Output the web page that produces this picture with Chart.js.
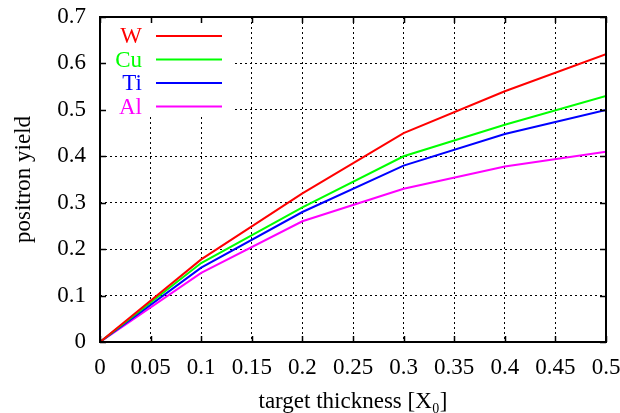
<!DOCTYPE html>
<html>
<head>
<meta charset="utf-8">
<script src="https://cdn.jsdelivr.net/npm/chart.js@4/dist/chart.umd.min.js"></script>
<style>
html,body{margin:0;padding:0;background:#fff;}
#wrap{width:620px;height:413px;}
</style>
</head>
<body>
<div id="wrap"><canvas id="c" width="620" height="413"></canvas></div>
<script>
const thickness = [0, 0.1, 0.2, 0.3, 0.4, 0.5];
const yieldW  = [0, 0.178, 0.32, 0.45, 0.54, 0.62];
const yieldCu = [0, 0.17, 0.29, 0.40, 0.468, 0.53];
const yieldTi = [0, 0.16, 0.28, 0.38, 0.448, 0.50];
const yieldAl = [0, 0.149, 0.26, 0.33, 0.378, 0.41];
const seriesNames = ['W', 'Cu', 'Ti', 'Al'];
const seriesColors = ['#ff0000', '#00ff00', '#0000ff', '#ff00ff'];
const xTickLabels = ['0','0.05','0.1','0.15','0.2','0.25','0.3','0.35','0.4','0.45','0.5'];
const yTickLabels = ['0','0.1','0.2','0.3','0.4','0.5','0.6','0.7'];
const xTitle = 'target thickness [X\u2080]';
const yTitle = 'positron yield';

const FONT = "'Liberation Serif', 'DejaVu Serif', serif";
const FS = 23;

const seriesData = [yieldW, yieldCu, yieldTi, yieldAl];
const datasets = seriesData.map((arr, i) => ({
  label: seriesNames[i],
  data: thickness.map((x, j) => ({x: x, y: arr[j]})),
  borderColor: seriesColors[i],
  backgroundColor: seriesColors[i],
  borderWidth: 2,
  pointRadius: 0,
  tension: 0,
  fill: false
}));

const framePlugin = {
  id: 'frame',
  beforeDatasetsDraw(chart) {
    const ctx = chart.ctx, a = chart.chartArea;
    ctx.save();
    ctx.fillStyle = '#fff';
    ctx.fillRect(a.left + 1, a.top + 1, 132, 99);
    ctx.restore();
  },
  afterDatasetsDraw(chart) {
    const ctx = chart.ctx, a = chart.chartArea;
    const xs = chart.scales.x, ys = chart.scales.y;
    ctx.save();
    ctx.strokeStyle = '#000';
    ctx.lineWidth = 2;
    ctx.strokeRect(a.left, a.top, a.right - a.left, a.bottom - a.top);
    ctx.lineWidth = 1.5;
    const tl = 6;
    xs.ticks.forEach(t => {
      const px = Math.round(xs.getPixelForValue(t.value)) + 0.5;
      ctx.beginPath();
      ctx.moveTo(px, a.bottom); ctx.lineTo(px, a.bottom - tl);
      ctx.moveTo(px, a.top); ctx.lineTo(px, a.top + tl);
      ctx.stroke();
    });
    ys.ticks.forEach(t => {
      const py = Math.round(ys.getPixelForValue(t.value)) + 0.5;
      ctx.beginPath();
      ctx.moveTo(a.left, py); ctx.lineTo(a.left + tl, py);
      ctx.moveTo(a.right, py); ctx.lineTo(a.right - tl, py);
      ctx.stroke();
    });
    ctx.font = FS + 'px ' + FONT;
    ctx.textAlign = 'right';
    ctx.textBaseline = 'middle';
    seriesNames.forEach((n, i) => {
      const y = a.top + 19 + i * 23.5;
      ctx.fillStyle = seriesColors[i];
      ctx.fillText(n, a.left + 42, y + 1);
      ctx.strokeStyle = seriesColors[i];
      ctx.lineWidth = 2;
      ctx.beginPath();
      ctx.moveTo(a.left + 56, y); ctx.lineTo(a.left + 122, y);
      ctx.stroke();
    });
    ctx.restore();
  }
};

new Chart(document.getElementById('c'), {
  type: 'line',
  data: { datasets: datasets },
  options: {
    responsive: false,
    animation: false,
    devicePixelRatio: 1,
    layout: { padding: { left: 0, right: 14, top: 17, bottom: 0 } },
    plugins: { legend: { display: false }, tooltip: { enabled: false } },
    scales: {
      x: {
        type: 'linear',
        min: 0, max: 0.5,
        ticks: {
          stepSize: 0.05,
          color: '#000',
          font: { family: FONT, size: FS },
          padding: 12,
          maxRotation: 0,
          autoSkip: false,
          callback: (v, i) => xTickLabels[i]
        },
        grid: { color: '#000', lineWidth: 1, drawTicks: false, tickLength: 0 },
        border: { display: false, dash: [2, 3] },
        title: { display: true, text: xTitle, color: '#000', font: { family: FONT, size: FS, lineHeight: 0.95 }, padding: { top: 8, bottom: 0 } },
        afterFit: s => { s.height = 71; s.paddingLeft = 0; s.paddingRight = 0; }
      },
      y: {
        type: 'linear',
        min: 0, max: 0.7,
        ticks: {
          stepSize: 0.1,
          color: '#000',
          font: { family: FONT, size: FS },
          padding: 14,
          callback: (v, i) => yTickLabels[i]
        },
        grid: { color: '#000', lineWidth: 1, drawTicks: false, tickLength: 0 },
        border: { display: false, dash: [2, 3] },
        title: { display: true, text: yTitle, color: '#000', font: { family: FONT, size: FS }, padding: { top: 10, bottom: 0 } },
        afterFit: s => { s.width = 100; s.paddingTop = 0; s.paddingBottom = 0; }
      }
    }
  },
  plugins: [framePlugin]
});
</script>
</body>
</html>
